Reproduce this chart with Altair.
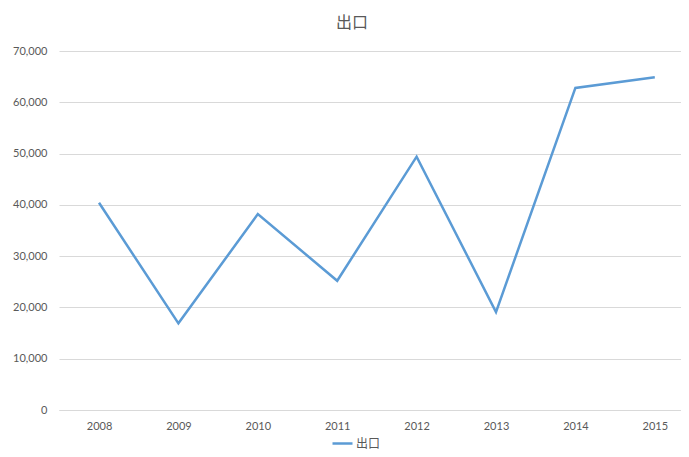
import altair as alt
import pandas as pd

years = [2008, 2009, 2010, 2011, 2012, 2013, 2014, 2015]
exports = [40400, 16900, 38200, 25200, 49400, 19100, 62800, 64900]
series = ["出口"] * len(years)

df = pd.DataFrame({"年": years, "值": exports, "系列": series})

chart = alt.Chart(df).mark_line(strokeWidth=2.5, color="#5B9BD5").encode(
    x=alt.X("年:Q",
            scale=alt.Scale(domain=[2007.496, 2015.33], nice=False, zero=False),
            axis=alt.Axis(values=years, format="d", title=None, grid=False, ticks=False,
                          domain=True, domainColor="#D9D9D9", labelPadding=10,
                          labelFontSize=11, labelColor="#595959", labelFont="Lato")),
    y=alt.Y("值:Q",
            scale=alt.Scale(domain=[0, 70000], nice=False),
            axis=alt.Axis(values=[0, 10000, 20000, 30000, 40000, 50000, 60000, 70000],
                          format=",.0f", title=None, ticks=False, domain=False,
                          gridColor="#D9D9D9", labelPadding=12,
                          labelFontSize=11, labelColor="#595959", labelFont="Lato")),
    color=alt.Color("系列:N", scale=alt.Scale(range=["#5B9BD5"]),
                    legend=alt.Legend(title=None, orient="none", legendX=272, legendY=381,
                                      symbolType="stroke", symbolStrokeWidth=2.5,
                                      symbolSize=400, labelFontSize=12, labelColor="#595959",
                                      labelFont="Noto Sans CJK SC", labelOffset=2)),
).properties(
    width=622,
    height=359,
    title=alt.TitleParams("出口", fontSize=16, font="Noto Sans CJK SC", fontWeight="normal",
                          color="#595959", anchor="middle", frame="group", offset=14, dx=-18),
    autosize="none",
    padding={"left": 51, "top": 43, "right": 0, "bottom": 46},
).configure_view(stroke=None)

chart.save("out.html", embed_options={"renderer": "svg", "actions": False})
